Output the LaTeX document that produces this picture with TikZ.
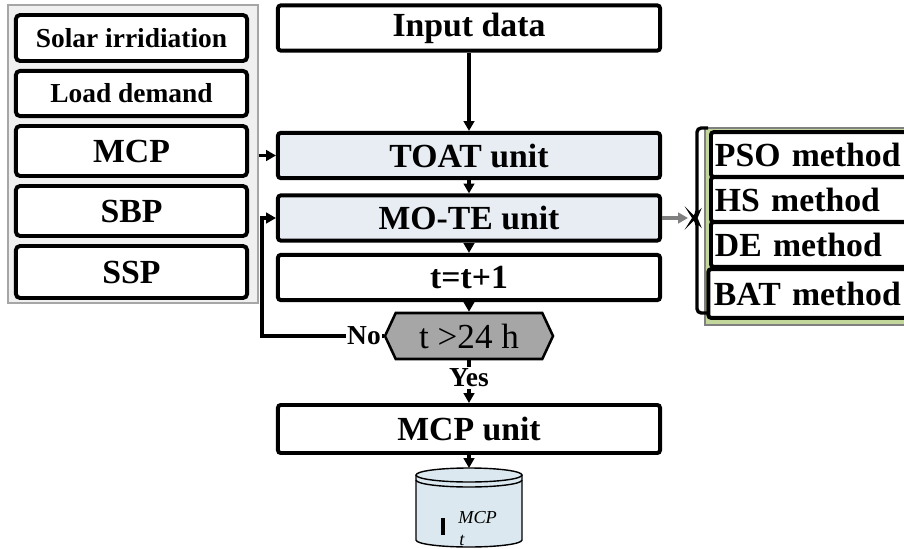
\documentclass[tikz,border=0pt]{standalone}
\usepackage{fontspec}
\setmainfont{Liberation Serif}
\usetikzlibrary{positioning, arrows.meta, shapes.geometric, shapes.symbols, fit, calc, backgrounds}

\definecolor{unitfill}{HTML}{E8EDF4}
\definecolor{panelgray}{HTML}{F0F0F0}
\definecolor{methodgreen}{HTML}{C3D69B}
\definecolor{checkgray}{HTML}{A6A6A6}
\definecolor{dbfill}{HTML}{DBE8EF}

\newcommand{\bigbf}{\bfseries\fontsize{24}{26}\selectfont}
\newcommand{\midbf}{\bfseries\fontsize{19.5}{22}\selectfont}

\tikzset{
  % main flow boxes
  unitbox/.style={
    draw, line width=2.8pt, rounded corners=2pt, fill=white,
    minimum width=9.55cm, minimum height=1.13cm,
    inner sep=0pt, font=\bigbf
  },
  % input variables on the left
  varbox/.style={
    draw, line width=2.8pt, rounded corners=3pt, fill=white,
    minimum width=5.78cm, inner sep=0pt, font=\bigbf
  },
  % optimisation methods on the right
  methbox/.style={
    draw, line width=2.8pt, rounded corners=2pt, fill=white,
    minimum width=5.2cm, minimum height=1.12cm,
    inner sep=0pt, font=\bigbf, text width=5cm, align=left
  },
  flow/.style={
    -{Triangle[length=7pt, width=7.5pt]}, line width=2.5pt
  },
  lbl/.style={font=\midbf, inner sep=1pt},
}

\begin{document}
\begin{tikzpicture}[x=0.025cm, y=-0.025cm]
  \useasboundingbox (0,0) rectangle (904,548);
  \begin{scope}
  \clip (0,0) rectangle (904,548);

  %% ── Main flow ──
  \node[unitbox] (input) at (469,28)  {Input data};
  \node[unitbox, fill=unitfill] (toat) at (469,155.5) {TOAT unit};
  \node[unitbox, fill=unitfill] (mote) at (469,218)   {MO-TE unit};
  \node[unitbox] (tinc) at (469,277.5) {t=t+1};
  \node[signal, signal to=west and east, signal pointer angle=130,
        draw, line width=1.8pt, fill=checkgray,
        minimum width=4.2cm, minimum height=1.15cm, inner sep=0pt,
        font=\fontsize{25}{27}\selectfont] (check) at (469,336) {t >24 h};
  \node[lbl] (nolbl)  at (364,336) {No};
  \node[lbl] (yeslbl) at (469,378) {Yes};
  \node[unitbox, minimum height=1.2cm] (mcpu) at (469,429) {MCP unit};

  % database drum
  \filldraw[fill=dbfill, line width=1pt]
    (416,475) -- (416,540) arc[start angle=180, end angle=0, x radius=53, y radius=7]
    -- (522,475);
  \filldraw[fill=dbfill, line width=1pt] (469,475) ellipse[x radius=53, y radius=7];
  \draw[line width=1pt] (416,480) arc[start angle=180, end angle=0, x radius=53, y radius=7];
  \coordinate (dbtop) at (469,468);
  \node[font=\itshape\fontsize{13}{14}\selectfont, anchor=west, inner sep=0pt] (dbsup) at (458,518) {MCP};
  \node[font=\itshape\fontsize{13}{14}\selectfont, anchor=west, inner sep=0pt] (dbsub) at (459,540) {t};
  \draw[line width=2.4pt] (443,518) -- (443,535);

  %% ── Input variables ──
  \node[varbox, minimum height=1.15cm, font=\midbf] (solar) at (131.5,38)   {Solar irridiation};
  \node[varbox, minimum height=1.13cm, font=\midbf] (load)  at (131.5,93.5) {Load demand};
  \node[varbox, minimum height=1.25cm] (mcpin) at (131.5,151) {MCP};
  \node[varbox, minimum height=1.25cm] (sbp)   at (131.5,211) {SBP};
  \node[varbox, minimum height=1.3cm]  (ssp)   at (131.5,272) {SSP};
  \begin{scope}[on background layer]
    \node[draw=gray!70, line width=1pt, fill=panelgray, inner sep=0pt,
          fit={(8,5) (258,303)}] (inpanel) {};
  \end{scope}

  %% ── Optimisation methods ──
  \node[methbox] (pso) at (815,154.5) {PSO method};
  \node[methbox] (hs)  at (815,199.5) {HS method};
  \node[methbox] (de)  at (815,244.5) {DE method};
  \node[methbox, minimum height=1.22cm, minimum width=5.28cm] (bat) at (814,293.5) {BAT method};
  \begin{scope}[on background layer]
    \node[draw=gray, line width=1pt, fill=methodgreen, inner sep=0pt,
          fit={(705,128) (920,325)}] (methpanel) {};
  \end{scope}
  \coordinate (brtip) at (694,218);
  \coordinate (brin) at (688,218);
  \draw[line width=2.4pt, rounded corners=3pt]
    (708,128) -| (697,215) -- (brtip) -- (697,221) |- (708,313);

  %% ── Connectors ──
  \draw[flow] (input) -- (toat);
  \draw[flow] (toat) -- (mote);
  \draw[flow] (mote) -- (tinc);
  \draw[flow] (tinc) -- (check);
  \draw[flow] (inpanel.east |- toat.west) -- (toat.west);
  \draw[flow, gray] (mote.east) -- (brin);
  \draw[line width=2.5pt] (check.west) -- (nolbl.east);
  \coordinate (loopc) at (262,336);
  \draw[flow] (nolbl.west) -- (loopc) |- (mote.west);
  \draw[line width=2.5pt] (check.south) -- (yeslbl.north);
  \draw[flow] (yeslbl.south) -- (mcpu.north);
  \draw[flow] (mcpu) -- (dbtop);
  \end{scope}

\end{tikzpicture}
\end{document}
